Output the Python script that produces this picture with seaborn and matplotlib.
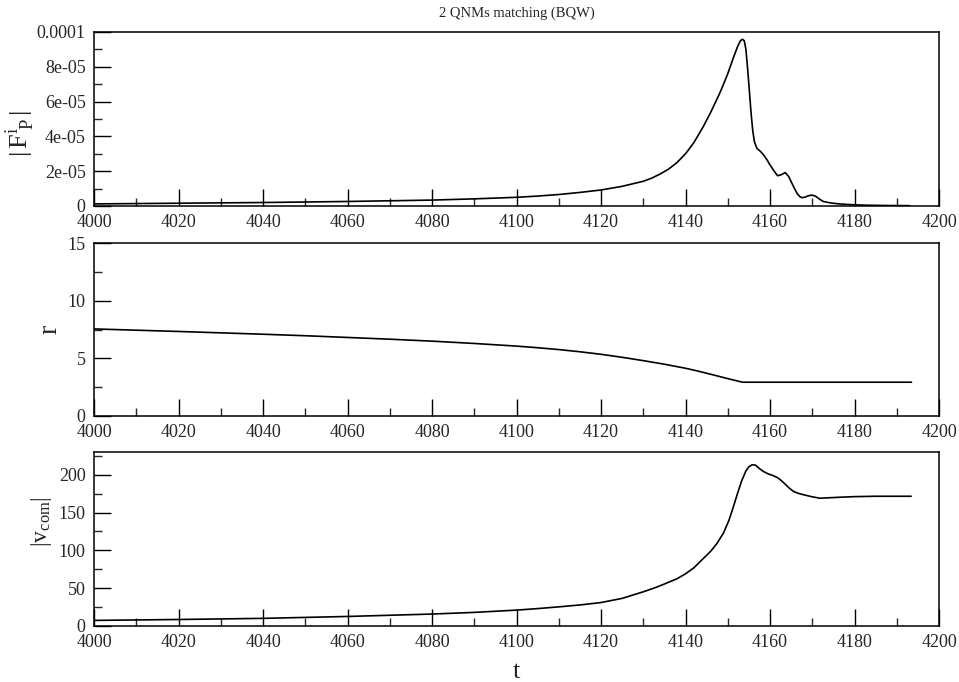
import numpy as np
import pandas as pd
import matplotlib
matplotlib.use("Agg")
import matplotlib.pyplot as plt
from matplotlib.ticker import MultipleLocator, FixedLocator, FixedFormatter
import seaborn as sns

# ---------------- data ----------------
t_f = [4000, 4020, 4040, 4060, 4080, 4090, 4100, 4105, 4110, 4115, 4120, 4125,
       4130, 4132, 4134, 4136, 4138, 4140.1, 4142, 4144.2, 4146, 4148.1, 4149,
       4150, 4151.3, 4152.3, 4153.0, 4153.5, 4153.9, 4154.3, 4154.7, 4155.1,
       4155.5, 4155.9, 4156.3, 4156.9, 4157.7, 4158.5, 4159.3, 4160.0, 4161.0,
       4161.8, 4162.7, 4163.6, 4164.4, 4165.2, 4165.8, 4166.4, 4167.0, 4167.5,
       4168.2, 4169.0, 4169.9, 4170.8, 4171.7, 4172.6, 4174.5, 4176.6, 4179.7,
       4183, 4187, 4193]
f_val = [1.2e-6, 1.6e-6, 2.0e-6, 2.6e-6, 3.4e-6, 4.1e-6, 5.0e-6, 5.7e-6, 6.6e-6,
         7.8e-6, 9.2e-6, 1.13e-5, 1.42e-5, 1.6e-5, 1.84e-5, 2.12e-5, 2.5e-5,
         3.03e-5, 3.65e-5, 4.56e-5, 5.4e-5, 6.48e-5, 7.0e-5, 7.6e-5, 8.5e-5,
         9.15e-5, 9.5e-5, 9.58e-5, 9.5e-5, 9.0e-5, 7.9e-5, 6.67e-5, 5.4e-5,
         4.37e-5, 3.7e-5, 3.31e-5, 3.15e-5, 2.93e-5, 2.65e-5, 2.36e-5, 2.0e-5,
         1.74e-5, 1.8e-5, 1.92e-5, 1.7e-5, 1.3e-5, 1.0e-5, 7.3e-6, 5.5e-6,
         4.8e-6, 5.0e-6, 5.8e-6, 6.3e-6, 5.6e-6, 4.0e-6, 2.6e-6, 1.7e-6, 1.15e-6,
         0.7e-6, 0.45e-6, 0.3e-6, 0.2e-6]

t_r = [4000, 4010, 4020, 4030, 4040, 4050, 4060, 4070, 4080, 4090, 4100, 4105,
       4110, 4115, 4120, 4125, 4130, 4135, 4140, 4143, 4146.6, 4150, 4153.5,
       4160, 4170, 4180, 4193.5]
r_val = [7.55, 7.44, 7.33, 7.21, 7.09, 6.96, 6.81, 6.66, 6.49, 6.29, 6.06, 5.92,
         5.76, 5.57, 5.35, 5.09, 4.8, 4.49, 4.14, 3.89, 3.56, 3.24, 2.93,
         2.93, 2.93, 2.93, 2.93]

t_v = [4000, 4020, 4040, 4060, 4080, 4090, 4100, 4105, 4110, 4115, 4120, 4125,
       4130, 4133, 4135, 4138, 4140, 4142, 4144, 4146, 4147.4, 4149, 4150.3,
       4151.3, 4152.3, 4153.3, 4154.3, 4155.0, 4155.8, 4156.6, 4157.4, 4158.4,
       4159.6, 4160.8, 4161.8, 4162.7, 4163.6, 4164.5, 4165.5, 4166.6, 4167.8,
       4169.8, 4171.8, 4174, 4176.5, 4180, 4185, 4193.4]
v_val = [7.4, 8.6, 10.1, 12.6, 15.8, 18.0, 21.0, 23.0, 25.3, 27.8, 31.0, 36.5,
         45.2, 51.0, 55.5, 62.5, 69.0, 77.0, 88.0, 99.0, 108.8, 123.0, 140.0,
         157.0, 175.0, 192.0, 205.0, 210.5, 213.2, 212.5, 208.5, 204.4,
         201.0, 198.7, 196.0, 192.1, 187.5, 182.5, 178.1, 175.5, 173.7,
         171.0, 168.9, 169.5, 170.2, 171.0, 171.5, 171.5]

x_ticks = [4000, 4020, 4040, 4060, 4080, 4100, 4120, 4140, 4160, 4180, 4200]
f_ticks = [0, 2e-5, 4e-5, 6e-5, 8e-5, 1e-4]
f_ticklabels = ['0', '2e-05', '4e-05', '6e-05', '8e-05', '0.0001']
r_ticks = [0, 5, 10, 15]
v_ticks = [0, 50, 100, 150, 200]

title = "2 QNMs matching (BQW)"
ylabels = [r'$|\,\mathrm{F}^{\mathrm{i}}_{\;\mathrm{P}}\,|$', r'$\mathrm{r}$',
           r'$|\mathrm{v}_{\mathrm{com}}|$']
xlabel = "t"

# ---------------- style ----------------
sns.set_theme(style="ticks")
plt.rcParams['font.family'] = ['Liberation Serif', 'DejaVu Serif']
plt.rcParams['mathtext.fontset'] = 'custom'
plt.rcParams['mathtext.rm'] = 'Liberation Serif'
plt.rcParams['mathtext.it'] = 'Liberation Serif:italic'

fig = plt.figure(figsize=(9.59, 6.82), dpi=100)
L, W = 94 / 959, 845 / 959
H = 682.0
boxes = [(32, 206), (243, 416), (452, 626)]
axes = []
for top, bot in boxes:
    ax = fig.add_axes([L, 1 - bot / H, W, (bot - top) / H])
    axes.append(ax)

df_f = pd.DataFrame({"t": t_f, "y": f_val})
df_r = pd.DataFrame({"t": t_r, "y": r_val})
df_v = pd.DataFrame({"t": t_v, "y": v_val})

for ax, df in zip(axes, [df_f, df_r, df_v]):
    sns.lineplot(data=df, x="t", y="y", ax=ax, color="black", linewidth=1.2,
                 estimator=None, sort=False)

ylims = [(0, 1e-4), (0, 15), (0, 230)]
yminor = [1e-5, 2.5, 25]
label_sizes = [19, 20, 17]
for i, ax in enumerate(axes):
    ax.set_xlim(4000, 4200)
    ax.set_ylim(*ylims[i])
    ax.xaxis.set_major_locator(FixedLocator(x_ticks))
    ax.xaxis.set_minor_locator(MultipleLocator(10))
    ax.yaxis.set_minor_locator(MultipleLocator(yminor[i]))
    ax.tick_params(axis='both', which='major', direction='in', length=12,
                   width=1.0, labelsize=13, color='black',
                   top=False, right=False)
    ax.tick_params(axis='y', which='major', pad=6)
    ax.tick_params(axis='x', which='major', pad=6)
    ax.tick_params(axis='both', which='minor', direction='in', length=6,
                   width=1.0, top=False, right=False)
    for sp in ax.spines.values():
        sp.set_visible(True)
        sp.set_linewidth(1.1)
        sp.set_color('black')
    ax.set_xlabel("")
    ax.set_ylabel(ylabels[i], fontsize=label_sizes[i])

axes[0].yaxis.set_major_locator(FixedLocator(f_ticks))
axes[0].yaxis.set_major_formatter(FixedFormatter(f_ticklabels))
axes[1].yaxis.set_major_locator(FixedLocator(r_ticks))
axes[2].yaxis.set_major_locator(FixedLocator(v_ticks))

axes[0].yaxis.set_label_coords(-0.068, 0.414)
axes[1].yaxis.set_label_coords(-0.037, 0.5)
axes[2].yaxis.set_label_coords(-0.047, 0.6)

axes[0].set_title(title, fontsize=10.5, pad=11)
fig.text((94 + 845 / 2) / 959, 1 - 672 / H, xlabel, ha='center', va='center',
         fontsize=19)

fig.savefig("out.png", dpi=100)
